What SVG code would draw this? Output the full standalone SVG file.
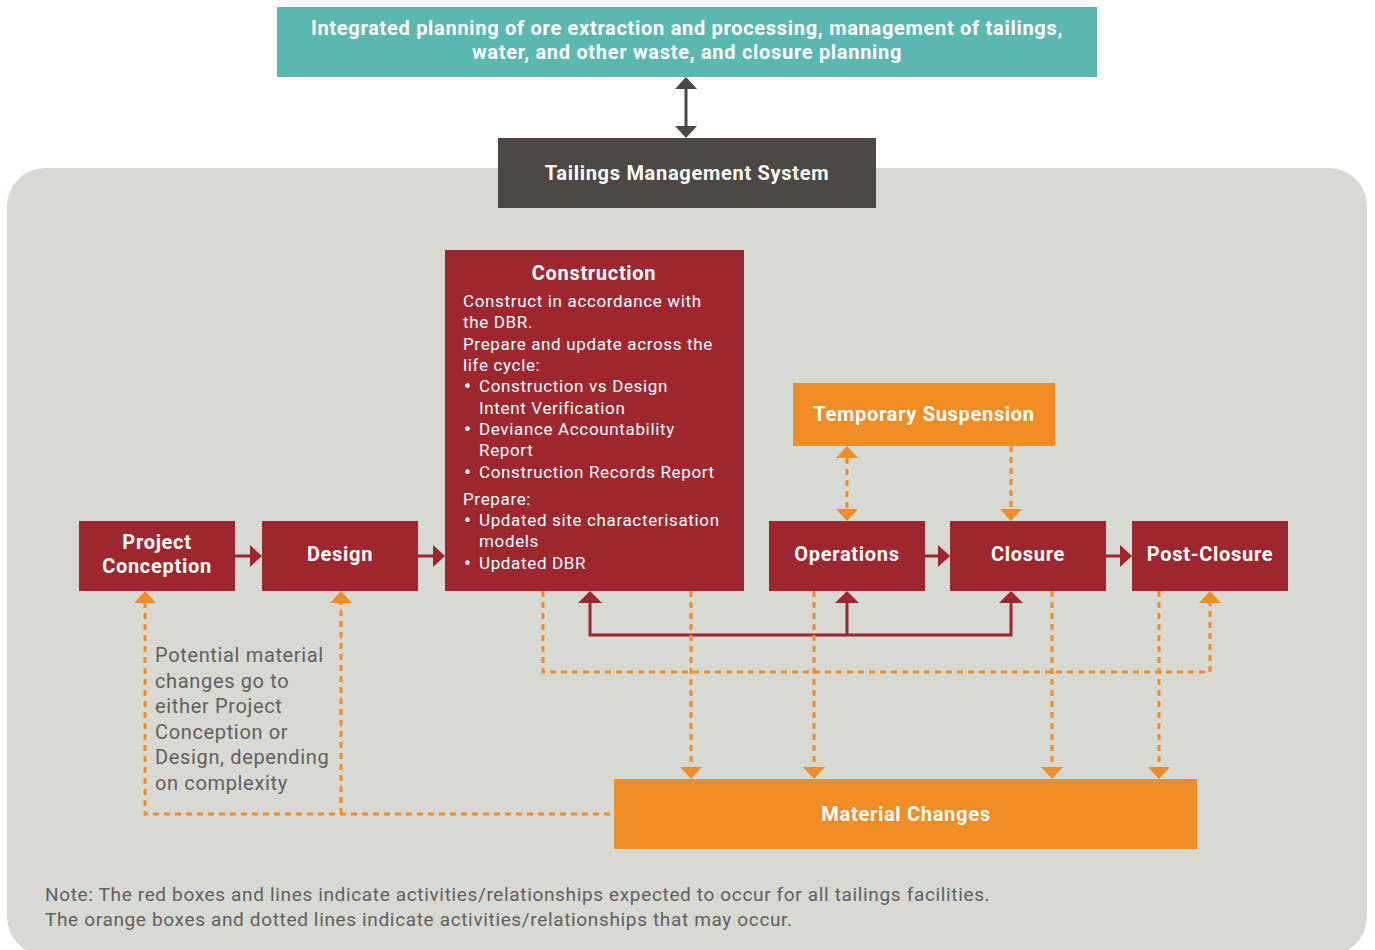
<svg xmlns="http://www.w3.org/2000/svg" width="1375" height="950" viewBox="0 0 1375 950">
<style>
.t{font-family:Roboto,"Liberation Sans",sans-serif;font-weight:bold;fill:#fff;text-anchor:middle;letter-spacing:0.7px}
.b{font-family:Roboto,"Liberation Sans",sans-serif;fill:#fff;font-size:17px;letter-spacing:0.65px}
.d{font-family:"DejaVu Sans",sans-serif;fill:#fff;font-size:15px}
.g{font-family:Roboto,"Liberation Sans",sans-serif;fill:#5f5f5f;letter-spacing:0.65px}
.red{fill:#9e262f}
.org{fill:#f08d26}
.rl{stroke:#9e262f;stroke-width:3;fill:none}
.ol{stroke:#f08d26;stroke-width:3;fill:none;stroke-dasharray:6 5}
</style>
<rect width="1375" height="950" fill="#fff"/>
<rect id="panel" x="7" y="168" width="1360" height="787" rx="38" fill="#d9d9d4"/>
<g id="integrated">
<rect x="277" y="7" width="820" height="70" fill="#5bb8b0"/>
<text class="t" x="687" y="35" font-size="20">Integrated planning of ore extraction and processing, management of tailings,</text>
<text class="t" x="687" y="59" font-size="20">water, and other waste, and closure planning</text>
</g>
<g id="tms">
<rect x="498" y="138" width="378" height="70" fill="#4d4845"/>
<text class="t" x="687" y="180" font-size="20">Tailings Management System</text>
</g>
<g id="project-conception">
<rect class="red" x="79" y="521" width="156" height="70"/>
<text class="t" x="157" y="549" font-size="20">Project</text>
<text class="t" x="157" y="573" font-size="20">Conception</text>
</g>
<g id="design">
<rect class="red" x="262" y="521" width="156" height="70"/>
<text class="t" x="340" y="561" font-size="20">Design</text>
</g>
<g id="construction">
<rect class="red" x="445" y="250" width="299" height="341"/>
<text class="t" x="594" y="280" font-size="20">Construction</text>
<text class="b" x="463" y="307">Construct in accordance with</text>
<text class="b" x="463" y="328">the DBR.</text>
<text class="b" x="463" y="350">Prepare and update across the</text>
<text class="b" x="463" y="371">life cycle:</text>
<text class="d" x="463" y="392">•</text><text class="b" x="479" y="392">Construction vs Design</text>
<text class="b" x="479" y="414">Intent Verification</text>
<text class="d" x="463" y="435">•</text><text class="b" x="479" y="435">Deviance Accountability</text>
<text class="b" x="479" y="456">Report</text>
<text class="d" x="463" y="478">•</text><text class="b" x="479" y="478">Construction Records Report</text>
<text class="b" x="463" y="505">Prepare:</text>
<text class="d" x="463" y="526">•</text><text class="b" x="479" y="526">Updated site characterisation</text>
<text class="b" x="479" y="547">models</text>
<text class="d" x="463" y="569">•</text><text class="b" x="479" y="569">Updated DBR</text>
</g>
<g id="temporary-suspension">
<rect class="org" x="793" y="383" width="262" height="63"/>
<text class="t" x="924" y="421" font-size="20">Temporary Suspension</text>
</g>
<g id="operations">
<rect class="red" x="769" y="521" width="156" height="70"/>
<text class="t" x="847" y="561" font-size="20">Operations</text>
</g>
<g id="closure">
<rect class="red" x="950" y="521" width="156" height="70"/>
<text class="t" x="1028" y="561" font-size="20">Closure</text>
</g>
<g id="post-closure">
<rect class="red" x="1132" y="521" width="156" height="70"/>
<text class="t" x="1210" y="561" font-size="20">Post-Closure</text>
</g>
<g id="material-changes">
<rect class="org" x="614" y="779" width="583" height="70"/>
<text class="t" x="906" y="821" font-size="20">Material Changes</text>
</g>
<g id="connectors">
<line x1="686" y1="88" x2="686" y2="127" stroke="#4d4845" stroke-width="3"/>
<polygon points="686,77 675,89 697,89" fill="#4d4845"/>
<polygon points="686,138 675,126 697,126" fill="#4d4845"/>
<line class="rl" x1="235" y1="556" x2="251" y2="556"/><polygon class="red" points="262,556 250,545 250,567"/>
<line class="rl" x1="418" y1="556" x2="434" y2="556"/><polygon class="red" points="445,556 433,545 433,567"/>
<line class="rl" x1="925" y1="556" x2="939" y2="556"/><polygon class="red" points="950,556 938,545 938,567"/>
<line class="rl" x1="1106" y1="556" x2="1121" y2="556"/><polygon class="red" points="1132,556 1120,545 1120,567"/>
<polyline class="rl" points="590,602 590,635 1011,635 1011,602"/>
<line class="rl" x1="847" y1="602" x2="847" y2="635"/>
<polygon class="red" points="590,591 578,603 602,603"/>
<polygon class="red" points="847,591 835,603 859,603"/>
<polygon class="red" points="1011,591 999,603 1023,603"/>
<line class="ol" x1="847" y1="458" x2="847" y2="509"/>
<polygon class="org" points="847,446 836,458 858,458"/>
<polygon class="org" points="847,521 836,509 858,509"/>
<line class="ol" x1="1011" y1="446" x2="1011" y2="509"/>
<polygon class="org" points="1011,521 1000,509 1022,509"/>
<polyline class="ol" points="543,591 543,672 1210,672 1210,603"/>
<polygon class="org" points="1210,591 1199,603 1221,603"/>
<line class="ol" x1="691" y1="591" x2="691" y2="767"/>
<polygon class="org" points="691,779 680,767 702,767"/>
<line class="ol" x1="814" y1="591" x2="814" y2="767"/>
<polygon class="org" points="814,779 803,767 825,767"/>
<line class="ol" x1="1052" y1="591" x2="1052" y2="767"/>
<polygon class="org" points="1052,779 1041,767 1063,767"/>
<line class="ol" x1="1159" y1="591" x2="1159" y2="767"/>
<polygon class="org" points="1159,779 1148,767 1170,767"/>
<polyline class="ol" points="610,814 145,814 145,603"/>
<line class="ol" x1="341" y1="814" x2="341" y2="603"/>
<polygon class="org" points="145,591 134,603 156,603"/>
<polygon class="org" points="341,591 330,603 352,603"/>
</g>
<g id="annotation">
<text class="g" x="155" y="662" font-size="20">Potential material</text>
<text class="g" x="155" y="688" font-size="20">changes go to</text>
<text class="g" x="155" y="713" font-size="20">either Project</text>
<text class="g" x="155" y="739" font-size="20">Conception or</text>
<text class="g" x="155" y="764" font-size="20">Design, depending</text>
<text class="g" x="155" y="790" font-size="20">on complexity</text>
</g>
<g id="note">
<text class="g" x="45" y="901" font-size="19" fill="#6a6a6a">Note: The red boxes and lines indicate activities/relationships expected to occur for all tailings facilities.</text>
<text class="g" x="45" y="926" font-size="19" fill="#6a6a6a">The orange boxes and dotted lines indicate activities/relationships that may occur.</text>
</g>
</svg>
